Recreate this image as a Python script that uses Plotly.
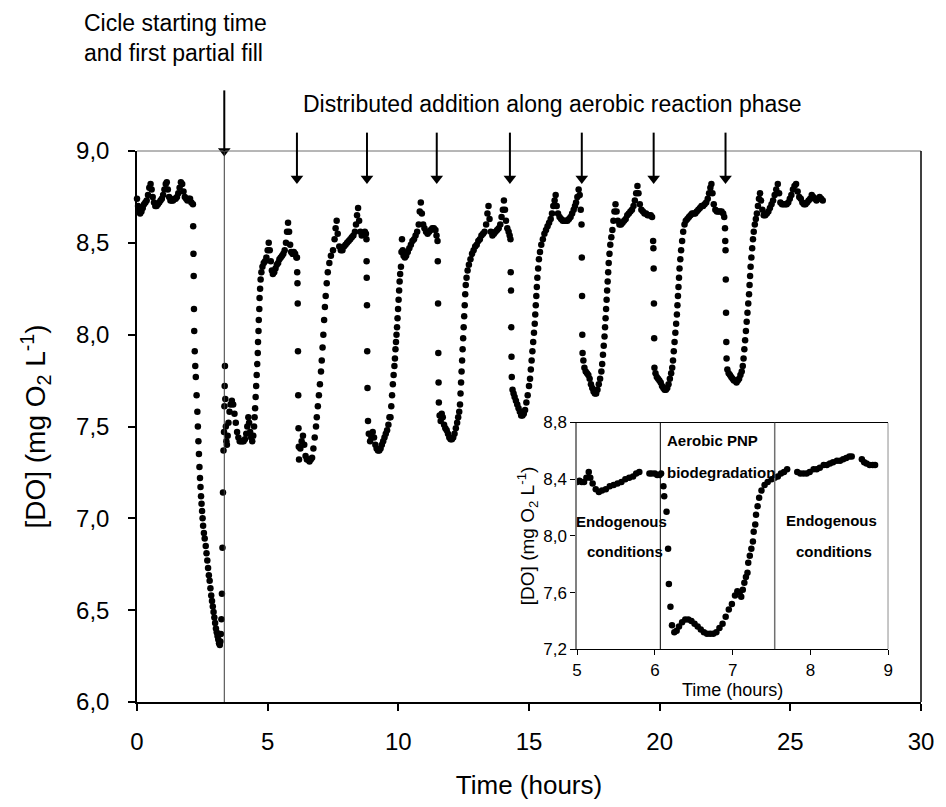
import plotly.graph_objects as go

# ---------------- main series: time (h) and dissolved oxygen (mg O2/L) ----------------
t_c0 = [0.00, 0.04, 0.08, 0.12, 0.17, 0.22, 0.27, 0.32, 0.37, 0.42, 0.47, 0.52, 0.56, 0.60, 0.65, 0.70, 0.75, 0.80,
        0.85, 0.90, 0.95, 1.00, 1.05, 1.10, 1.14, 1.18, 1.23, 1.28, 1.33, 1.38, 1.43, 1.48, 1.53, 1.58, 1.63, 1.68,
        1.73, 1.78, 1.83, 1.88, 1.93, 1.98, 2.03, 2.08]
do_c0 = [8.74, 8.70, 8.67, 8.66, 8.67, 8.69, 8.71, 8.72, 8.73, 8.76, 8.80, 8.82, 8.79, 8.75, 8.72, 8.70, 8.70, 8.71,
         8.72, 8.73, 8.74, 8.76, 8.79, 8.82, 8.83, 8.79, 8.75, 8.73, 8.73, 8.73, 8.74, 8.74, 8.75, 8.77, 8.80, 8.83,
         8.82, 8.78, 8.75, 8.74, 8.73, 8.74, 8.74, 8.72]

t_c1 = [2.14, 2.15, 2.16, 2.17, 2.18, 2.19, 2.21, 2.23, 2.25, 2.28, 2.31, 2.33, 2.35, 2.37, 2.39, 2.41, 2.43, 2.45,
        2.47, 2.49, 2.51, 2.53, 2.56, 2.59, 2.63, 2.66, 2.69, 2.72, 2.75, 2.78, 2.81, 2.84, 2.87, 2.90, 2.93, 2.96,
        2.99, 3.02, 3.05, 3.08, 3.11, 3.14, 3.17, 3.19, 3.21, 3.23, 3.25, 3.27, 3.29, 3.31, 3.33, 3.345, 3.355,
        3.365, 3.38, 3.40, 3.42, 3.44, 3.47, 3.50, 3.54, 3.58, 3.63, 3.68, 3.73, 3.78, 3.83, 3.88, 3.93, 3.98,
        4.03, 4.08, 4.13, 4.18, 4.22, 4.26, 4.29, 4.33, 4.37, 4.41, 4.45, 4.48, 4.50, 4.52, 4.54, 4.56, 4.58,
        4.60, 4.62, 4.63, 4.65, 4.66, 4.68, 4.69, 4.71, 4.73, 4.76, 4.80, 4.85, 4.90, 4.95, 5.00, 5.04, 5.08,
        5.12, 5.16, 5.20, 5.25, 5.30, 5.35, 5.40, 5.45, 5.50, 5.55, 5.60, 5.65, 5.70, 5.74, 5.78, 5.82, 5.86,
        5.90, 5.95, 6.00, 6.05, 6.10]
do_c1 = [8.71, 8.59, 8.44, 8.32, 8.14, 8.02, 7.91, 7.83, 7.77, 7.67, 7.58, 7.50, 7.42, 7.35, 7.28, 7.22, 7.17, 7.12,
         7.08, 7.04, 7.00, 6.96, 6.92, 6.89, 6.85, 6.81, 6.77, 6.73, 6.69, 6.66, 6.62, 6.58, 6.55, 6.52, 6.49, 6.46,
         6.43, 6.40, 6.38, 6.36, 6.34, 6.32, 6.31, 6.33, 6.37, 6.45, 6.59, 6.84, 7.14, 7.37, 7.47, 7.61, 7.72,
         7.83, 7.65, 7.50, 7.42, 7.40, 7.45, 7.52, 7.58, 7.62, 7.64, 7.62, 7.57, 7.52, 7.47, 7.44, 7.42, 7.42,
         7.42, 7.42, 7.43, 7.46, 7.50, 7.55, 7.52, 7.47, 7.44, 7.42, 7.45, 7.50, 7.55, 7.60, 7.66, 7.72, 7.78,
         7.84, 7.90, 7.96, 8.02, 8.08, 8.14, 8.20, 8.25, 8.30, 8.34, 8.37, 8.39, 8.40, 8.42, 8.46, 8.50, 8.46,
         8.40, 8.35, 8.33, 8.34, 8.36, 8.38, 8.39, 8.41, 8.42, 8.43, 8.44, 8.46, 8.50, 8.56, 8.61, 8.56, 8.49,
         8.45, 8.44, 8.45, 8.44, 8.42]

t_c2 = [6.12, 6.13, 6.14, 6.15, 6.16, 6.17, 6.18, 6.19, 6.20, 6.25, 6.30, 6.35, 6.40, 6.45, 6.50, 6.55, 6.60, 6.65,
        6.70, 6.75, 6.80, 6.85, 6.88, 6.92, 6.96, 7.00, 7.04, 7.07, 7.10, 7.13, 7.16, 7.19, 7.22, 7.26, 7.30, 7.36,
        7.42, 7.50, 7.56, 7.60, 7.64, 7.68, 7.74, 7.80, 7.86, 7.92, 7.98, 8.04, 8.10, 8.16, 8.22, 8.28, 8.34, 8.38,
        8.42, 8.46, 8.50, 8.55, 8.60, 8.66, 8.72, 8.76]
do_c2 = [8.42, 8.34, 8.28, 8.17, 7.91, 7.67, 7.49, 7.39, 7.32, 7.38, 7.42, 7.45, 7.40, 7.34, 7.32, 7.32, 7.31, 7.32,
         7.33, 7.38, 7.44, 7.50, 7.55, 7.61, 7.67, 7.73, 7.80, 7.86, 7.93, 8.00, 8.08, 8.15, 8.21, 8.28, 8.34, 8.39,
         8.43, 8.46, 8.52, 8.58, 8.62, 8.55, 8.48, 8.46, 8.46, 8.48, 8.49, 8.50, 8.51, 8.52, 8.53, 8.54, 8.56, 8.60,
         8.65, 8.69, 8.62, 8.56, 8.54, 8.55, 8.56, 8.55]

t_c3 = [8.78, 8.785, 8.79, 8.80, 8.81, 8.82, 8.84, 8.87, 8.92, 8.97, 9.02, 9.07, 9.12, 9.17, 9.22, 9.27, 9.32, 9.37,
        9.42, 9.47, 9.52, 9.57, 9.62, 9.66, 9.70, 9.73, 9.76, 9.79, 9.82, 9.85, 9.87, 9.89, 9.91, 9.93, 9.95, 9.97,
        9.99, 10.01, 10.03, 10.05, 10.07, 10.10, 10.12, 10.14, 10.17, 10.20, 10.25, 10.30, 10.36, 10.42, 10.48,
        10.54, 10.60, 10.66, 10.72, 10.78, 10.82, 10.86, 10.90, 10.95, 11.00, 11.06, 11.12, 11.18, 11.24, 11.30,
        11.36, 11.42, 11.46]
do_c3 = [8.52, 8.40, 8.31, 8.16, 7.91, 7.71, 7.53, 7.46, 7.42, 7.44, 7.47, 7.44, 7.40, 7.38, 7.37, 7.37, 7.38, 7.40,
         7.42, 7.44, 7.46, 7.48, 7.51, 7.55, 7.55, 7.61, 7.67, 7.73, 7.78, 7.83, 7.87, 7.92, 7.96, 8.00, 8.04, 8.09,
         8.14, 8.19, 8.24, 8.29, 8.33, 8.37, 8.45, 8.52, 8.46, 8.43, 8.42, 8.43, 8.45, 8.47, 8.49,
         8.51, 8.52, 8.54, 8.56, 8.60, 8.67, 8.72, 8.66, 8.60, 8.58, 8.56, 8.55, 8.56, 8.57, 8.58,
         8.58, 8.57, 8.54]

t_c4 = [11.50, 11.51, 11.52, 11.53, 11.54, 11.55, 11.58, 11.62, 11.66, 11.70, 11.75, 11.80, 11.85, 11.90, 11.95,
        12.00, 12.05, 12.10, 12.15, 12.20, 12.25, 12.29, 12.33, 12.36, 12.38, 12.40, 12.42, 12.44, 12.46, 12.48,
        12.50, 12.52, 12.54, 12.56, 12.58, 12.61, 12.65, 12.70, 12.76, 12.82, 12.88, 12.94, 13.00, 13.06, 13.12,
        13.18, 13.24, 13.30, 13.36, 13.41, 13.45, 13.49, 13.54, 13.60, 13.66, 13.72, 13.78, 13.84, 13.90, 13.95,
        14.00, 14.04, 14.08, 14.12, 14.17, 14.22, 14.26]
do_c4 = [8.51, 8.40, 8.17, 7.90, 7.74, 7.63, 7.56, 7.53, 7.57, 7.55, 7.51, 7.49, 7.48, 7.46, 7.44,
         7.43, 7.43, 7.44, 7.46, 7.49, 7.52, 7.55, 7.58, 7.62, 7.68, 7.74, 7.80, 7.86, 7.92, 7.98,
         8.04, 8.10, 8.16, 8.22, 8.27, 8.31, 8.35, 8.38, 8.41, 8.44, 8.46, 8.48, 8.49, 8.51, 8.52,
         8.54, 8.55, 8.56, 8.60, 8.66, 8.70, 8.63, 8.56, 8.54, 8.55, 8.56, 8.57, 8.58, 8.60, 8.64,
         8.68, 8.73, 8.68, 8.62, 8.58, 8.56, 8.54]

t_c5 = [14.29, 14.30, 14.31, 14.32, 14.33, 14.34, 14.37, 14.41, 14.45, 14.50, 14.55, 14.60, 14.65, 14.70, 14.75,
        14.80, 14.85, 14.90, 14.95, 15.00, 15.04, 15.07, 15.10, 15.13, 15.16, 15.19, 15.22, 15.24, 15.26, 15.28,
        15.30, 15.32, 15.35, 15.38, 15.42, 15.47, 15.53, 15.59, 15.65, 15.71, 15.77, 15.83, 15.88, 15.93, 15.98,
        16.02, 16.06, 16.11, 16.17, 16.23, 16.29, 16.35, 16.41, 16.47, 16.53, 16.59, 16.65, 16.71, 16.76, 16.80,
        16.85, 16.90, 16.94, 16.98]
do_c5 = [8.52, 8.34, 8.24, 8.04, 7.88, 7.77, 7.70, 7.68, 7.66, 7.64, 7.62, 7.60, 7.58, 7.56, 7.56,
         7.57, 7.59, 7.63, 7.67, 7.72, 7.76, 7.81, 7.86, 7.91, 7.96, 8.01, 8.06, 8.11, 8.16, 8.21,
         8.26, 8.31, 8.36, 8.41, 8.45, 8.49, 8.52, 8.55, 8.57, 8.59, 8.61, 8.63, 8.66, 8.70, 8.73,
         8.76, 8.70, 8.66, 8.64, 8.63, 8.62, 8.62, 8.62, 8.62, 8.63, 8.64, 8.66, 8.68, 8.70, 8.72,
         8.75, 8.79, 8.76, 8.68]

t_c6 = [17.01, 17.02, 17.03, 17.04, 17.05, 17.08, 17.12, 17.17, 17.22, 17.27, 17.32, 17.37, 17.42, 17.47, 17.52,
        17.57, 17.62, 17.67, 17.72, 17.77, 17.80, 17.83, 17.86, 17.89, 17.91, 17.93, 17.95, 17.97, 17.99, 18.01,
        18.03, 18.05, 18.08, 18.11, 18.15, 18.19, 18.23, 18.27, 18.31, 18.35, 18.40, 18.46, 18.52, 18.58, 18.64,
        18.70, 18.76, 18.82, 18.88, 18.94, 19.00, 19.05, 19.10, 19.15, 19.19, 19.24, 19.30, 19.36, 19.42, 19.48,
        19.54, 19.60, 19.66, 19.71]
do_c6 = [8.60, 8.42, 8.21, 8.00, 7.90, 7.86, 7.82, 7.80, 7.79, 7.78, 7.76, 7.73, 7.71, 7.69, 7.68,
         7.68, 7.70, 7.73, 7.76, 7.80, 7.84, 7.89, 7.94, 7.99, 8.04, 8.09, 8.14, 8.19, 8.24, 8.29,
         8.34, 8.39, 8.44, 8.49, 8.53, 8.57, 8.62, 8.67, 8.71, 8.67, 8.62, 8.60, 8.60, 8.61, 8.62,
         8.63, 8.65, 8.66, 8.67, 8.68, 8.70, 8.73, 8.77, 8.81, 8.77, 8.71, 8.68, 8.67, 8.66, 8.66,
         8.65, 8.65, 8.65, 8.64]

t_c7 = [19.75, 19.76, 19.77, 19.78, 19.79, 19.80, 19.84, 19.89, 19.94, 19.99, 20.04, 20.09, 20.14, 20.19, 20.24,
        20.29, 20.34, 20.39, 20.44, 20.48, 20.51, 20.54, 20.57, 20.60, 20.63, 20.66, 20.68, 20.70, 20.72, 20.74,
        20.76, 20.79, 20.82, 20.86, 20.90, 20.95, 21.00, 21.06, 21.12, 21.18, 21.24, 21.30, 21.36, 21.42, 21.48,
        21.54, 21.60, 21.66, 21.72, 21.78, 21.84, 21.89, 21.94, 21.98, 22.02, 22.07, 22.13, 22.19, 22.25, 22.31,
        22.37, 22.43, 22.47]
do_c7 = [8.51, 8.47, 8.36, 8.17, 7.98, 7.82, 7.79, 7.77, 7.76, 7.75, 7.74, 7.72, 7.71, 7.70, 7.70,
         7.71, 7.73, 7.76, 7.79, 7.82, 7.86, 7.91, 7.96, 8.01, 8.06, 8.11, 8.16, 8.21, 8.26, 8.31,
         8.36, 8.41, 8.46, 8.51, 8.56, 8.60, 8.62, 8.63, 8.64, 8.65, 8.66, 8.66, 8.66, 8.67, 8.68,
         8.69, 8.70, 8.70, 8.71, 8.72, 8.74, 8.77, 8.80, 8.82, 8.77, 8.71, 8.68, 8.67, 8.67, 8.67,
         8.67, 8.66, 8.64]

t_c8 = [22.50, 22.51, 22.52, 22.53, 22.54, 22.55, 22.56, 22.59, 22.64, 22.69, 22.74, 22.79, 22.84, 22.89, 22.94,
        22.99, 23.04, 23.09, 23.14, 23.18, 23.21, 23.24, 23.27, 23.30, 23.33, 23.36, 23.39, 23.42, 23.44, 23.46,
        23.48, 23.51, 23.54, 23.57, 23.60, 23.64, 23.68, 23.72, 23.76, 23.80, 23.84, 23.88, 23.93, 23.98, 24.04,
        24.10, 24.16, 24.22, 24.28, 24.34, 24.40, 24.46, 24.52, 24.57, 24.62, 24.68, 24.74, 24.80, 24.86, 24.92,
        24.98, 25.04, 25.10, 25.16, 25.22, 25.28, 25.34, 25.40, 25.46, 25.52, 25.58, 25.64, 25.70, 25.76, 25.82,
        25.88, 25.94, 26.00, 26.06, 26.12, 26.18, 26.24]
do_c8 = [8.58, 8.51, 8.46, 8.30, 8.12, 7.96, 7.87, 7.81, 7.79, 7.78, 7.77, 7.76, 7.75, 7.75, 7.74,
         7.75, 7.76, 7.78, 7.80, 7.83, 7.87, 7.92, 7.97, 8.02, 8.07, 8.12, 8.17, 8.22, 8.27, 8.32,
         8.37, 8.42, 8.47, 8.52, 8.56, 8.60, 8.63, 8.66, 8.70, 8.74, 8.77, 8.73, 8.68, 8.65, 8.65,
         8.66, 8.67, 8.69, 8.71, 8.73, 8.76, 8.79, 8.82, 8.77, 8.72, 8.71, 8.71, 8.71, 8.71, 8.72,
         8.74, 8.76, 8.79, 8.81, 8.82, 8.78, 8.75, 8.74, 8.72, 8.71, 8.71, 8.72, 8.73, 8.74, 8.76,
         8.75, 8.74, 8.73, 8.74, 8.75, 8.74, 8.73]

# ---------------- inset series (5-9 h detail) ----------------
t_inset = [5.00, 5.03, 5.06, 5.09, 5.12, 5.15, 5.17, 5.20, 5.24, 5.28, 5.32, 5.37, 5.42, 5.47, 5.52, 5.57, 5.62,
           5.67, 5.72, 5.76, 5.80, 5.93, 5.96, 6.00, 6.03, 6.06, 6.08, 6.11, 6.12, 6.15, 6.17, 6.18, 6.20, 6.22,
           6.25, 6.28, 6.31, 6.35, 6.39, 6.43, 6.47, 6.51, 6.55, 6.59, 6.63, 6.67, 6.71, 6.75, 6.79, 6.83, 6.87,
           6.91, 6.95, 6.99, 7.03, 7.06, 7.09, 7.11, 7.13, 7.15, 7.17, 7.19, 7.20, 7.22, 7.24, 7.26, 7.27, 7.29,
           7.30, 7.32, 7.34, 7.37, 7.41, 7.45, 7.50, 7.54, 7.58, 7.62, 7.66, 7.70, 7.83, 7.87, 7.91, 7.95, 7.99,
           8.04, 8.08, 8.12, 8.17, 8.21, 8.25, 8.29, 8.34, 8.38, 8.42, 8.46, 8.50, 8.53, 8.66, 8.69, 8.72,
           8.76, 8.80, 8.83]
do_inset = [8.38, 8.39, 8.38, 8.38, 8.41, 8.45, 8.41, 8.37, 8.33, 8.31, 8.32, 8.33, 8.35, 8.36, 8.37, 8.38, 8.40,
            8.41, 8.42, 8.44, 8.45, 8.44, 8.44, 8.44, 8.43, 8.43, 8.44, 8.35, 8.28, 8.17, 7.91, 7.66, 7.50, 7.37,
            7.32, 7.33, 7.36, 7.39, 7.41, 7.41, 7.40, 7.38, 7.36, 7.34, 7.32, 7.31, 7.31, 7.31, 7.32, 7.35, 7.38,
            7.43, 7.48, 7.52, 7.58, 7.61, 7.60, 7.57, 7.62, 7.67, 7.71, 7.74, 7.81, 7.86, 7.91, 7.96, 8.03, 8.08,
            8.15, 8.21, 8.27, 8.32, 8.36, 8.38, 8.40, 8.41, 8.42, 8.44, 8.45, 8.47, 8.45, 8.44, 8.44, 8.44, 8.45,
            8.47, 8.47, 8.48, 8.50, 8.50, 8.51, 8.52, 8.53, 8.53, 8.54, 8.55, 8.56, 8.56, 8.54, 8.52, 8.51,
            8.50, 8.50, 8.50]

# event times (h)
fill_time = 3.34
addition_times = [6.12, 8.80, 11.47, 14.27, 17.02, 19.77, 22.52]
inset_phase_limits = [6.07, 7.54]

main_xticks = [0, 5, 10, 15, 20, 25, 30]
main_yticks = [6.0, 6.5, 7.0, 7.5, 8.0, 8.5, 9.0]
inset_xticks = [5, 6, 7, 8, 9]
inset_yticks = [7.2, 7.6, 8.0, 8.4, 8.8]

t_main = t_c0 + t_c1 + t_c2 + t_c3 + t_c4 + t_c5 + t_c6 + t_c7 + t_c8
do_main = do_c0 + do_c1 + do_c2 + do_c3 + do_c4 + do_c5 + do_c6 + do_c7 + do_c8


def comma(v, nd=1):
    return f"{v:.{nd}f}".replace(".", ",")


FONT = "Liberation Sans, Arial, sans-serif"
W, H = 946, 807
ML, MR, MT, MB = 137, 18, 151, 102
PW, PH = W - ML - MR, H - MT - MB
Y0, Y1 = 6.0, 9.0


def px(x):
    return (x - ML) / PW


def py(y):
    return (H - MB - y) / PH


def ypaper(v):
    # DO value on the main y scale -> paper fraction (works outside the axis range)
    return (v - Y0) / (Y1 - Y0)


# arrow geometry (DO units of the main y axis)
fill_tip, fill_tail = 9.0, 9.33
add_tip, add_tail = 8.82, 9.10
head_off = 0.03

fig = go.Figure()
fig.add_trace(go.Scatter(x=t_main, y=do_main, mode="markers",
                         marker=dict(color="black", size=6.5, line=dict(width=0)),
                         xaxis="x", yaxis="y", showlegend=False, cliponaxis=False))
fig.add_trace(go.Scatter(x=t_inset, y=do_inset, mode="markers",
                         marker=dict(color="black", size=6.5, line=dict(width=0)),
                         xaxis="x2", yaxis="y2", showlegend=False))
# arrow heads (first one sits on the top frame line)
head_x = [fill_time] + addition_times
head_y = [fill_tip] + [add_tip + head_off] * len(addition_times)
fig.add_trace(go.Scatter(x=head_x, y=head_y, mode="markers",
                         marker=dict(symbol="triangle-down", size=11, color="black", line=dict(width=0)),
                         xaxis="x", yaxis="y", showlegend=False, cliponaxis=False, hoverinfo="skip"))

ix0, ix1 = px(581), px(895)
iy0, iy1 = py(652), py(424)

fig.update_layout(
    width=W, height=H,
    margin=dict(l=ML, r=MR, t=MT, b=MB, pad=0),
    paper_bgcolor="white", plot_bgcolor="white",
    font=dict(family=FONT, color="black"),
    xaxis=dict(domain=[0, 1], range=[0, 30], tickvals=main_xticks,
               ticktext=[str(v) for v in main_xticks],
               ticks="outside", ticklen=7, tickwidth=1.5, tickcolor="black",
               showline=True, linecolor="black", linewidth=1.5, showgrid=False, zeroline=False,
               tickfont=dict(size=24, family=FONT), anchor="y", ticklabelstandoff=10,
               title=dict(text="Time (hours)", font=dict(size=26, family=FONT), standoff=22)),
    yaxis=dict(domain=[0, 1], range=[Y0, Y1], tickvals=main_yticks,
               ticktext=[comma(v) for v in main_yticks],
               ticks="outside", ticklen=7, tickwidth=1.5, tickcolor="black",
               showline=True, linecolor="black", linewidth=1.5, showgrid=False, zeroline=False,
               tickfont=dict(size=24, family=FONT), anchor="x", ticklabelstandoff=14,
               title=dict(text="[DO] (mg O<sub>2</sub> L<sup>-1</sup>)", font=dict(size=28, family=FONT),
                          standoff=22)),
    xaxis2=dict(domain=[ix0, ix1], range=[5, 9], tickvals=inset_xticks,
                ticktext=[str(v) for v in inset_xticks], anchor="y2",
                ticks="outside", ticklen=5, tickwidth=1, tickcolor="black",
                showline=True, linecolor="black", linewidth=1, mirror=True,
                showgrid=False, zeroline=False, tickfont=dict(size=17, family=FONT),
                title=dict(text="Time (hours)", font=dict(size=18, family=FONT), standoff=2)),
    yaxis2=dict(domain=[iy0, iy1], range=[7.2, 8.8], tickvals=inset_yticks,
                ticktext=[comma(v) for v in inset_yticks], anchor="x2",
                ticks="outside", ticklen=5, tickwidth=1, tickcolor="black",
                showline=True, linecolor="#808080", linewidth=1.5,
                showgrid=False, zeroline=False, tickfont=dict(size=17, family=FONT),
                title=dict(text="[DO] (mg O<sub>2</sub> L<sup>-1</sup>)", font=dict(size=19, family=FONT),
                           standoff=4)),
)

shapes = []
# main frame: top (grey) and right (black)
shapes.append(dict(type="line", xref="paper", yref="paper", x0=0, x1=1, y0=1, y1=1,
                   line=dict(color="#6e6e6e", width=1)))
shapes.append(dict(type="line", xref="paper", yref="paper", x0=1, x1=1, y0=0, y1=1,
                   line=dict(color="black", width=1.5)))
# start-of-cycle vertical line
shapes.append(dict(type="line", xref="x", yref="y", x0=fill_time, x1=fill_time, y0=Y0, y1=Y1,
                   line=dict(color="#3a3a3a", width=1)))
# arrow shafts (paper y so they are not clipped above the plot area)
shapes.append(dict(type="line", xref="x", yref="paper", x0=fill_time, x1=fill_time,
                   y0=ypaper(fill_tail), y1=ypaper(fill_tip), line=dict(color="black", width=2)))
for t in addition_times:
    shapes.append(dict(type="line", xref="x", yref="paper", x0=t, x1=t,
                       y0=ypaper(add_tail), y1=ypaper(add_tip + head_off), line=dict(color="black", width=2)))
# inset right border
shapes.append(dict(type="line", xref="x2", yref="y2", x0=9, x1=9, y0=7.2, y1=8.8,
                   line=dict(color="black", width=1)))
# inset phase separators
shapes.append(dict(type="line", xref="x2", yref="y2", x0=inset_phase_limits[0], x1=inset_phase_limits[0],
                   y0=7.2, y1=8.8, line=dict(color="black", width=1)))
shapes.append(dict(type="line", xref="x2", yref="y2", x0=inset_phase_limits[1], x1=inset_phase_limits[1],
                   y0=7.2, y1=8.8, line=dict(color="#707070", width=1.5)))

annotations = []
big = dict(size=23, family=FONT)
annotations.append(dict(x=px(82), y=py(22), xref="paper", yref="paper", xanchor="left", yanchor="middle",
                        showarrow=False, text="Cicle starting time", font=big))
annotations.append(dict(x=px(82), y=py(52), xref="paper", yref="paper", xanchor="left", yanchor="middle",
                        showarrow=False, text="and first partial fill", font=big))
annotations.append(dict(x=px(302), y=py(104), xref="paper", yref="paper", xanchor="left", yanchor="middle",
                        showarrow=False, text="Distributed addition along aerobic reaction phase", font=big))
bold = dict(size=15, family=FONT, weight="bold")
annotations.append(dict(x=6.13, y=8.67, xref="x2", yref="y2", xanchor="left", showarrow=False,
                        text="Aerobic PNP", font=bold))
annotations.append(dict(x=6.13, y=8.45, xref="x2", yref="y2", xanchor="left", showarrow=False,
                        text="biodegradation", font=bold))
annotations.append(dict(x=5.57, y=8.10, xref="x2", yref="y2", showarrow=False,
                        text="Endogenous", font=bold))
annotations.append(dict(x=5.61, y=7.89, xref="x2", yref="y2", showarrow=False,
                        text="conditions", font=bold))
annotations.append(dict(x=8.27, y=8.11, xref="x2", yref="y2", showarrow=False,
                        text="Endogenous", font=bold))
annotations.append(dict(x=8.30, y=7.89, xref="x2", yref="y2", showarrow=False,
                        text="conditions", font=bold))

fig.update_layout(shapes=shapes, annotations=annotations)
fig.write_html("out.html")
